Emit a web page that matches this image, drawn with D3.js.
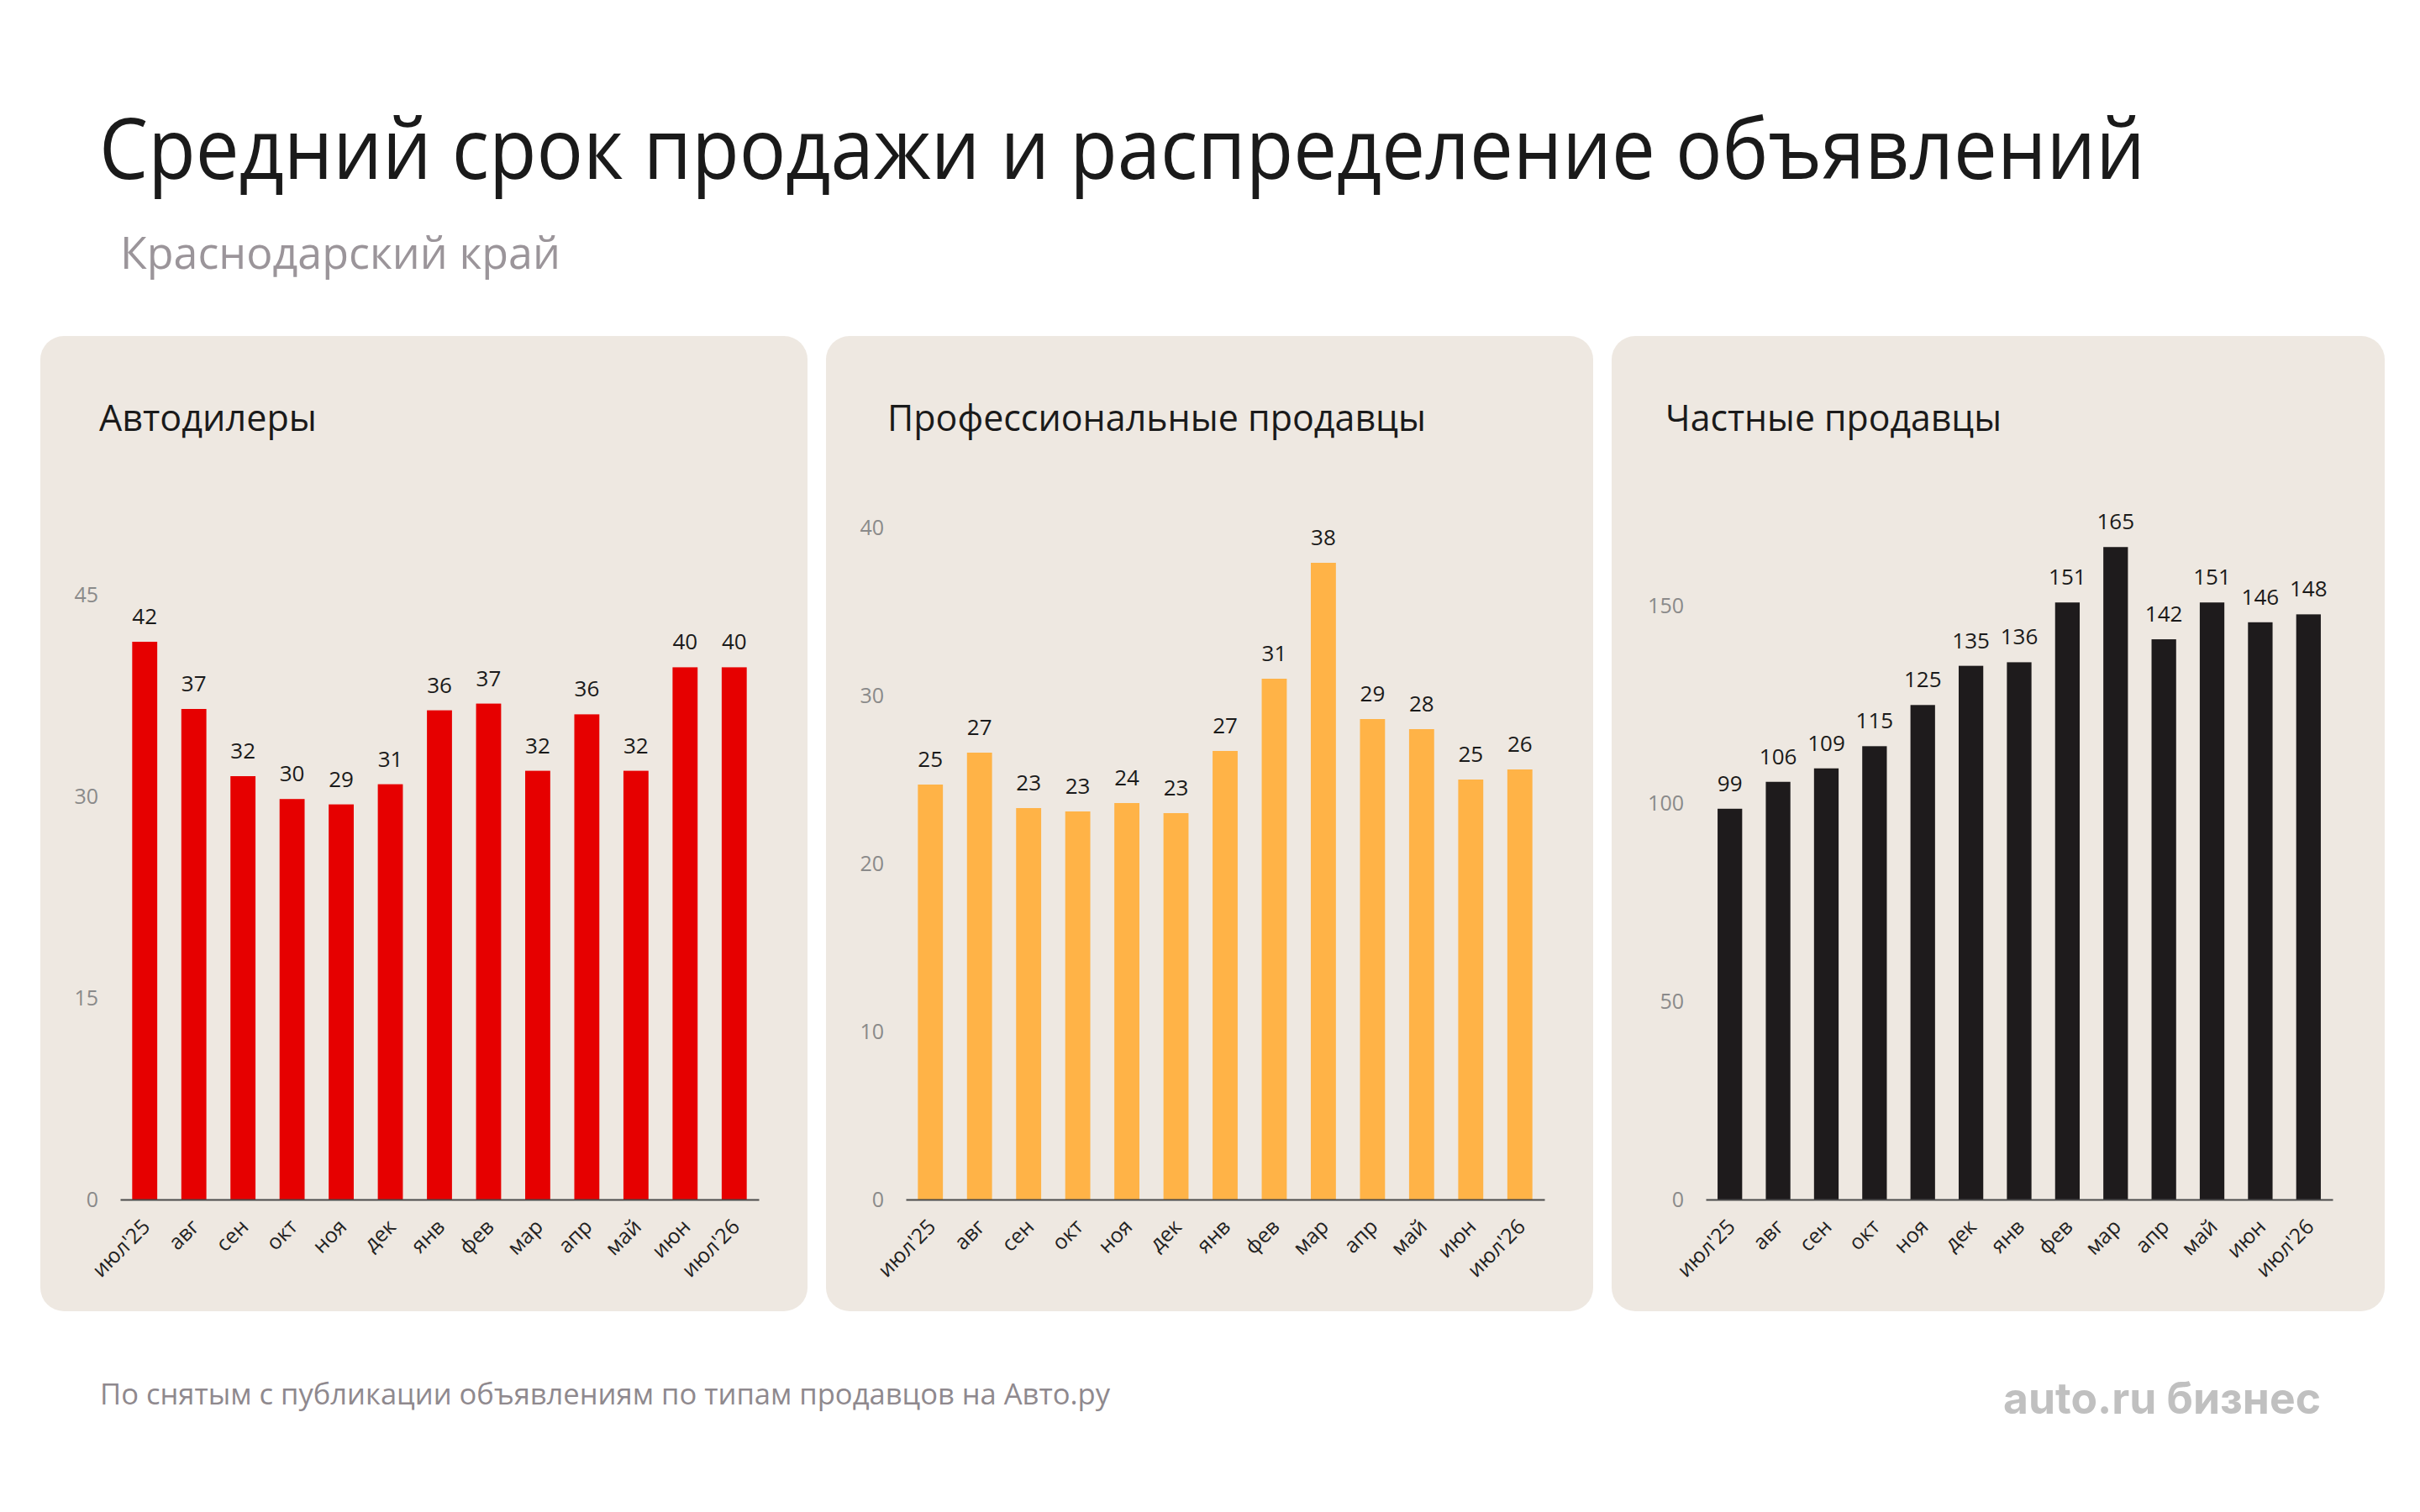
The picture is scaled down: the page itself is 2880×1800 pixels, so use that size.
<!DOCTYPE html>
<html lang="ru">
<head>
<meta charset="utf-8">
<script src="https://cdn.jsdelivr.net/npm/d3@7"></script>
<style>
  html, body { margin: 0; padding: 0; background: #ffffff; }
  svg { display: block; font-family: "Open Sans", "Noto Sans", sans-serif; }
</style>
</head>
<body>
<div id="container"></div>
<script>
/* DATA */
const months = ["июл'25", "авг", "сен", "окт", "ноя", "дек", "янв", "фев", "мар", "апр", "май", "июн", "июл'26"];
const dealerDays = [41.5, 36.5, 31.5, 29.8, 29.4, 30.9, 36.4, 36.9, 31.9, 36.1, 31.9, 39.6, 39.6];
const proDays = [24.7, 26.6, 23.3, 23.1, 23.6, 23.0, 26.7, 31.0, 37.9, 28.6, 28.0, 25.0, 25.6];
const privateDays = [98.7, 105.5, 108.9, 114.5, 124.9, 134.8, 135.7, 150.8, 164.8, 141.5, 150.8, 145.8, 147.8];
const dealerTicks = [0, 15, 30, 45];
const proTicks = [0, 10, 20, 30, 40];
const privateTicks = [0, 50, 100, 150];

/* CONSTANTS */
const width = 2880;
const height = 1800;
const baseline = 1428;
const panelTop = 400;
const panelBottom = 1561;

const panels = [
  { title: "Автодилеры", titleX: 118, titleLen: 259, left: 48, right: 961, x0: 143, x1: 903,
    values: dealerDays, ticks: dealerTicks, max: 45, top: 708, color: "#e60000" },
  { title: "Профессиональные продавцы", titleX: 1056, titleLen: 641, left: 983, right: 1896, x0: 1078, x1: 1838,
    values: proDays, ticks: proTicks, max: 40, top: 628, color: "#ffb347" },
  { title: "Частные продавцы", titleX: 1982, titleLen: 400, left: 1918, right: 2838, x0: 2030, x1: 2776,
    values: privateDays, ticks: privateTicks, max: 150, top: 721, color: "#1e1b1c" }
];

const svg = d3.select("#container")
  .append("svg")
  .attr("width", width)
  .attr("height", height)
  .style("background-color", "#ffffff");

// header
svg.append("text")
  .attr("x", 118).attr("y", 213)
  .attr("font-size", 100)
  .attr("font-weight", 500)
  .attr("fill", "#1a1a1a")
  .attr("textLength", 2435).attr("lengthAdjust", "spacingAndGlyphs")
  .text("Средний срок продажи и распределение объявлений");

svg.append("text")
  .attr("x", 143).attr("y", 320)
  .attr("font-size", 53)
  .attr("fill", "#9b959a")
  .attr("textLength", 524).attr("lengthAdjust", "spacingAndGlyphs")
  .text("Краснодарский край");

panels.forEach(p => {
  const g = svg.append("g");

  g.append("rect")
    .attr("x", p.left).attr("y", panelTop)
    .attr("width", p.right - p.left).attr("height", panelBottom - panelTop)
    .attr("rx", 28).attr("ry", 28)
    .attr("fill", "#eee8e1");

  g.append("text")
    .attr("x", p.titleX).attr("y", 513)
    .attr("font-size", 43)
    .attr("fill", "#1a1a1a")
    .attr("textLength", p.titleLen).attr("lengthAdjust", "spacingAndGlyphs")
    .text(p.title);

  const x = d3.scaleBand()
    .domain(months)
    .range([p.x0, p.x1])
    .paddingInner(0.49)
    .paddingOuter(0.245);

  const y = d3.scaleLinear()
    .domain([0, p.max])
    .range([baseline, p.top]);

  // y axis, labels only
  const yAxis = g.append("g")
    .attr("transform", `translate(${p.x0 - 26},0)`)
    .call(d3.axisLeft(y).tickValues(p.ticks).tickSize(0).tickPadding(0));
  yAxis.select(".domain").remove();
  yAxis.selectAll("text")
    .attr("font-family", "Open Sans, sans-serif")
    .attr("font-size", 25)
    .attr("fill", "#8a8a8a");

  // bars
  g.selectAll(".bar")
    .data(p.values)
    .join("rect")
    .attr("class", "bar")
    .attr("x", (d, i) => x(months[i]))
    .attr("y", d => y(d))
    .attr("width", x.bandwidth())
    .attr("height", d => baseline - y(d))
    .attr("fill", p.color);

  // value labels
  g.selectAll(".val")
    .data(p.values)
    .join("text")
    .attr("class", "val")
    .attr("x", (d, i) => x(months[i]) + x.bandwidth() / 2)
    .attr("y", d => y(d) - 21)
    .attr("text-anchor", "middle")
    .attr("font-size", 26)
    .attr("font-weight", 500)
    .attr("fill", "#1a1a1a")
    .text(d => Math.round(d));

  // x axis
  const xAxis = g.append("g")
    .attr("transform", `translate(0,${baseline})`)
    .call(d3.axisBottom(x).tickSize(0).tickSizeOuter(0).tickPadding(0));
  xAxis.select(".domain")
    .attr("stroke", "#4a4a4a")
    .attr("stroke-width", 2);
  xAxis.selectAll(".tick text")
    .attr("font-family", "Open Sans, sans-serif")
    .attr("font-size", 25)
    .attr("fill", "#222222")
    .attr("text-anchor", "end")
    .attr("dy", 0)
    .attr("y", 0)
    .attr("transform", "translate(8,34) rotate(-45)");
});

// footer
svg.append("text")
  .attr("x", 119).attr("y", 1672)
  .attr("font-size", 35)
  .attr("fill", "#8f898e")
  .attr("textLength", 1202).attr("lengthAdjust", "spacingAndGlyphs")
  .text("По снятым с публикации объявлениям по типам продавцов на Авто.ру");

svg.append("text")
  .attr("x", 2384).attr("y", 1683)
  .attr("font-family", "Inter, sans-serif")
  .attr("font-weight", 700)
  .attr("font-size", 52)
  .attr("fill", "#c0c0c0")
  .attr("textLength", 378).attr("lengthAdjust", "spacingAndGlyphs")
  .text("auto.ru бизнес");
</script>
</body>
</html>
